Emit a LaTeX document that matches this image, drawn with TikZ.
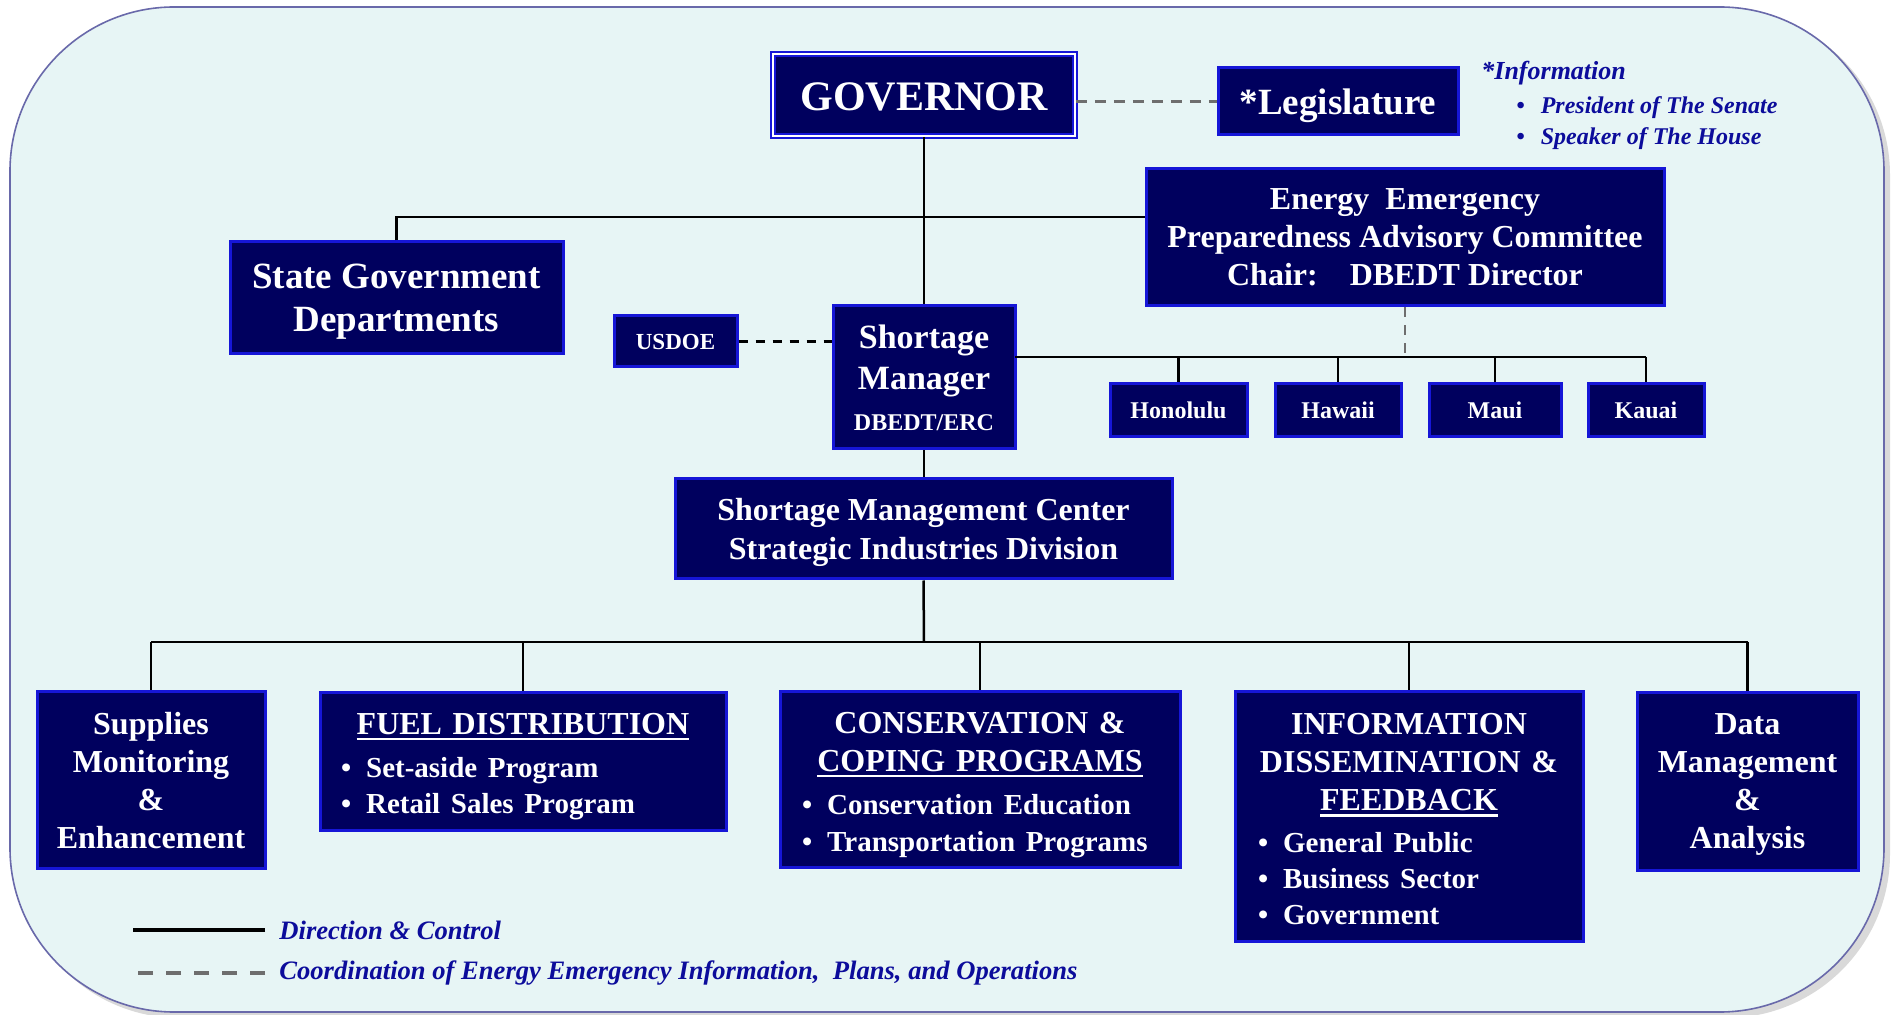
\documentclass[tikz,border=0pt]{standalone}
\usepackage{fontspec}
\setmainfont{Liberation Serif}
\usetikzlibrary{positioning}

\definecolor{unitfill}{RGB}{0,0,94}
\definecolor{unitline}{RGB}{22,22,215}
\definecolor{panel}{RGB}{231,245,245}
\definecolor{panelline}{RGB}{105,105,170}
\definecolor{notecol}{RGB}{12,12,155}
\definecolor{coordcol}{RGB}{110,110,110}

\newcommand{\BoxFont}[2]{\fontsize{#1}{#2}\selectfont}
\newsavebox{\HeadBox}
\newcommand{\Heading}[1]{\leavevmode\sbox\HeadBox{#1}\rlap{\rule[-2.9pt]{\wd\HeadBox}{1.2pt}}\usebox\HeadBox}
\newcommand{\Item}{\textbullet\hspace{7.5pt}}

\begin{document}
\begin{tikzpicture}[x=0.5pt, y=-0.5pt,
    unit/.style={draw=unitline, line width=1.5pt, fill=unitfill, text=white,
      font=\bfseries, align=center, inner sep=0pt, text depth=0pt},
    listunit/.style={unit, text depth=, align=left, font=\bfseries\BoxFont{16}{19}},
    wh/.style 2 args={minimum width=#1*0.5pt, minimum height=#2*0.5pt},
    link/.style={line width=1.25pt},
    coordlink/.style={coordcol, line width=1.5pt, dash pattern=on 5.5pt off 4pt},
    note/.style={text=notecol, inner sep=0pt, anchor=west}]
  \useasboundingbox (0,0) rectangle (1891,1015);

  % panel behind the chart
  \fill[gray!30, rounded corners=82pt] (16,11) rectangle (1890,1018);
  \filldraw[fill=panel, draw=panelline, line width=0.8pt, rounded corners=82pt] (10,7) rectangle (1884,1012);

  % top level
  \node[unit, wh={302}{82}, line width=0.9pt, double=white, double distance=0.8pt,
    font=\bfseries\BoxFont{21}{25}] (gov) at (924,95) {\raisebox{-1.2pt}{GOVERNOR}};
  \node[unit, wh={240}{67}, font=\bfseries\BoxFont{18.5}{22}] (leg) at (1338,101.5) {*Legislature};

  \node[note, font=\bfseries\itshape\BoxFont{13}{15}] (info) at (1481,73.5) {*Information};
  \node[note, font=\bfseries\itshape\BoxFont{12}{14}] (senate) at (1516,107.5) {\textbullet\hspace{8pt}President of The Senate};
  \node[note, font=\bfseries\itshape\BoxFont{12}{14}] (house) at (1516,138.5) {\textbullet\hspace{8pt}Speaker of The House};

  \node[unit, wh={518}{137}, font=\bfseries\BoxFont{16}{19}] (eepac) at (1405,237.5)
    {Energy\ \ Emergency\\Preparedness Advisory Committee\\Chair:\quad DBEDT Director};
  \node[unit, wh={333}{112}, font=\bfseries\BoxFont{18.5}{21.5}] (state) at (396.5,298) {State Government\\Departments};

  % shortage manager and counties
  \node[unit, wh={123}{51}, font=\bfseries\BoxFont{11.5}{14}] (usdoe) at (675.5,341.5) {USDOE};
  \node[unit, wh={182}{143}, font=\bfseries\BoxFont{17}{20.5}] (mgr) at (924,377.5)
    {Shortage\\Manager\\{\BoxFont{12}{19.5}DBEDT/ERC}};

  \foreach \name/\x/\w/\county in {hon/1178.5/137/Honolulu, haw/1338/126/Hawaii,
      maui/1495/132/Maui, kauai/1646/116/Kauai}
    \node[unit, wh={\w}{53}, font=\bfseries\BoxFont{12}{14}] (\name) at (\x,410.5) {\county};

  \node[unit, wh={497}{100}, font=\bfseries\BoxFont{16}{19.5}] (smc) at (923.5,529)
    {Shortage Management Center\\Strategic Industries Division};

  % program areas
  \node[unit, wh={228}{176}, font=\bfseries\BoxFont{16}{19}] (supply) at (151,780)
    {Supplies\\Monitoring\\\&\\Enhancement};
  \node[listunit, wh={406}{137}, text width=182pt, inner xsep=10.5pt] (fuel) at (523,761.5)
    {{\centering\Heading{FUEL DISTRIBUTION}\par}\vspace{3.5pt}
     {\BoxFont{14.5}{18}\Item Set-aside Program\\\Item Retail Sales Program\par}\vspace{-4.8pt}};
  \node[listunit, wh={400}{175}, text width=178pt, inner xsep=11pt] (cons) at (980,779.5)
    {{\centering CONSERVATION \&\\\Heading{COPING PROGRAMS}\par}\vspace{3pt}
     {\BoxFont{14.5}{18.5}\Item Conservation Education\\\Item Transportation Programs\par}\vspace{-5.4pt}};
  \node[listunit, wh={348}{249}, text width=151pt, inner xsep=11.5pt] (info) at (1409,816.5)
    {{\centering INFORMATION\\DISSEMINATION \&\\\Heading{FEEDBACK}\par}\vspace{3pt}
     {\BoxFont{14.5}{18}\Item General Public\\\Item Business Sector\\\Item Government\par}\vspace{-3pt}};
  \node[unit, wh={221}{177}, font=\bfseries\BoxFont{16}{19}] (data) at (1747.5,781.5)
    {Data\\Management\\\&\\Analysis};

  % direction and control
  \draw[link] (gov) -- (mgr);
  \coordinate (split) at (924,217);
  \draw[link] (state.north) |- (split) -- (split -| eepac.west);

  \coordinate (cbus) at (1015,357);
  \draw[link] (cbus) -- (cbus -| kauai.north);
  \foreach \c in {hon,haw,maui,kauai}
    \draw[link] (\c.north |- cbus) -- (\c.north);

  \draw[link] (mgr.south) -- (mgr.south |- smc.north);
  \coordinate (bbus) at (924,642);
  \draw[link] (smc.south) -- (bbus);
  \draw[link] (supply.north |- bbus) -- (data.north |- bbus);
  \foreach \b in {supply,fuel,cons,info,data}
    \draw[link] (\b.north |- bbus) -- (\b.north);

  % coordination
  \draw[coordlink] (leg.west -| gov.east) -- (leg.west);
  \draw[black, line width=1.5pt, dash pattern=on 4.5pt off 4pt] (usdoe.east) -- (usdoe.east -| mgr.west);
  \draw[coordcol, line width=1pt, dash pattern=on 5pt off 4pt] (eepac.south) -- (eepac.south |- cbus);

  % legend
  \node[note, font=\bfseries\itshape\BoxFont{13.3}{15}] (dirkey) at (279,930) {Direction \& Control};
  \node[note, font=\bfseries\itshape\BoxFont{13.3}{15}] (coordkey) at (279,973)
    {Coordination of Energy Emergency Information,\ \ Plans, and Operations};
  \draw[line width=2pt] ([xshift=-7pt]dirkey.west) -- ++(-132,0);
  \draw[coordcol, line width=2pt, dash pattern=on 7.5pt off 6.5pt] ([xshift=-7pt]coordkey.west) -- ++(-132,0);
\end{tikzpicture}
\end{document}
